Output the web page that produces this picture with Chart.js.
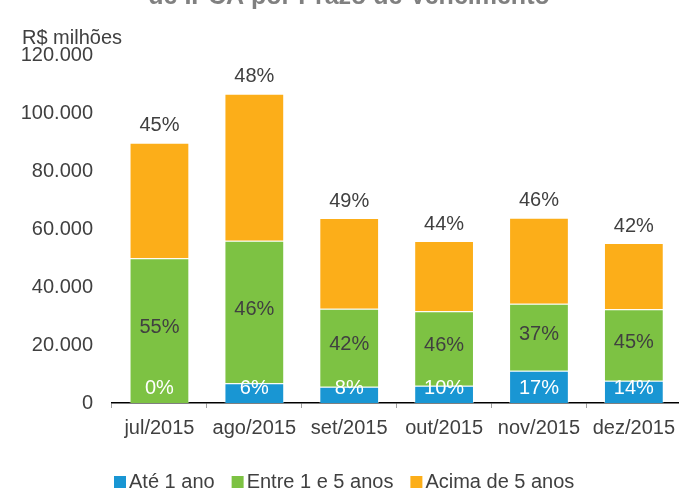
<!DOCTYPE html>
<html>
<head>
<meta charset="utf-8">
<script src="https://cdn.jsdelivr.net/npm/chart.js@4/dist/chart.umd.min.js"></script>
<style>
  html, body { margin: 0; padding: 0; background: #fff; overflow: hidden; }
  #wrap { width: 679px; height: 489px; position: relative; overflow: hidden; }
</style>
</head>
<body>
<div id="wrap"><canvas id="chart" width="683" height="489"></canvas></div>
<script>
// Estoque por prazo de vencimento (R$ milhões)
const months = ['jul/2015', 'ago/2015', 'set/2015', 'out/2015', 'nov/2015', 'dez/2015'];
const ate1Ano = [0, 6790, 5620, 5970, 11140, 7690];
const entre1e5 = [49900, 49180, 26900, 25650, 23100, 24620];
const acima5 = [39860, 50680, 31270, 24240, 29660, 22860];

// participação (%) mostrada nas barras
const pctAte1 = [0, 6, 8, 10, 17, 14];
const pctEntre = [55, 46, 42, 46, 37, 45];
const pctAcima = [45, 48, 49, 44, 46, 42];

const yTicks = [0, 20000, 40000, 60000, 80000, 100000, 120000];

const FONT = '"Liberation Sans", Arial, sans-serif';
const TEXT = '#404040';

const fmt = v => String(v).replace(/\B(?=(\d{3})+(?!\d))/g, '.');

// labels, unidade, título cortado e legenda
const annotate = {
  id: 'annotate',
  afterDatasetsDraw(chart) {
    const { ctx } = chart;
    const metaE = chart.getDatasetMeta(1);
    const metaC = chart.getDatasetMeta(2);
    const base = chart.scales.y.getPixelForValue(0);
    ctx.save();
    ctx.font = '20px ' + FONT;
    ctx.textAlign = 'center';
    ctx.textBaseline = 'middle';
    months.forEach((m, i) => {
      const x = metaE.data[i].x;
      // acima de 5 anos — em cima da barra
      ctx.fillStyle = TEXT;
      ctx.fillText(pctAcima[i] + '%', x, metaC.data[i].y - 17);
      // entre 1 e 5 anos — meio do segmento
      const gTop = metaE.data[i].y, gBot = metaE.data[i].base;
      ctx.fillText(pctEntre[i] + '%', x, (gTop + gBot) / 2 - 3);
      // até 1 ano — branco, perto da base
      ctx.fillStyle = '#ffffff';
      ctx.fillText(pctAte1[i] + '%', x, base - 15);
    });

    ctx.fillStyle = TEXT;
    ctx.textAlign = 'left';
    ctx.font = '20px ' + FONT;
    ctx.fillText('R$ milhões', 22, 38);

    // título (cortado no topo)
    ctx.fillStyle = '#808080';
    ctx.font = 'bold 25px ' + FONT;
    ctx.textAlign = 'center';
    ctx.textBaseline = 'alphabetic';
    ctx.fillText('de IPCA por Prazo de Vencimento', 349, 4);

    // legenda
    ctx.font = '20px ' + FONT;
    ctx.textBaseline = 'middle';
    ctx.textAlign = 'left';
    let lx = 114;
    const ly = 482;
    chart.data.datasets.forEach(ds => {
      ctx.fillStyle = ds.backgroundColor;
      ctx.fillRect(lx, ly - 6, 12, 12);
      ctx.fillStyle = TEXT;
      ctx.fillText(ds.label, lx + 15, ly);
      lx += 15 + ctx.measureText(ds.label).width + 17;
    });
    ctx.restore();
  }
};

new Chart(document.getElementById('chart'), {
  type: 'bar',
  data: {
    labels: months,
    datasets: [
      { label: 'Até 1 ano', data: ate1Ano, backgroundColor: '#1996d3' },
      { label: 'Entre 1 e 5 anos', data: entre1e5, backgroundColor: '#7dc243' },
      { label: 'Acima de 5 anos', data: acima5, backgroundColor: '#fcae19' }
    ].map(ds => Object.assign(ds, {
      borderColor: 'rgba(255,255,255,0.45)',
      borderWidth: 1,
      barPercentage: 0.63,
      categoryPercentage: 1
    }))
  },
  options: {
    responsive: false,
    animation: false,
    layout: { padding: { top: 55, right: 0, bottom: 0, left: 0 } },
    plugins: {
      legend: { display: false },
      tooltip: { enabled: false }
    },
    scales: {
      x: {
        stacked: true,
        grid: { display: true, drawOnChartArea: false, drawTicks: true, tickLength: 5, color: '#a0a0a0' },
        border: { display: true, color: '#000000', width: 1.5 },
        ticks: { color: TEXT, font: { family: FONT, size: 20 }, padding: 8, autoSkip: false, maxRotation: 0 },
        afterFit: s => { s.height = 86; }
      },
      y: {
        stacked: true,
        min: 0,
        max: 120000,
        grid: { display: false },
        border: { display: false },
        afterBuildTicks: s => { s.ticks = yTicks.map(v => ({ value: v })); },
        ticks: { color: TEXT, font: { family: FONT, size: 20 }, padding: 11, callback: v => fmt(v) },
        afterFit: s => { s.width = 112; }
      }
    }
  },
  plugins: [annotate]
});
</script>
</body>
</html>
